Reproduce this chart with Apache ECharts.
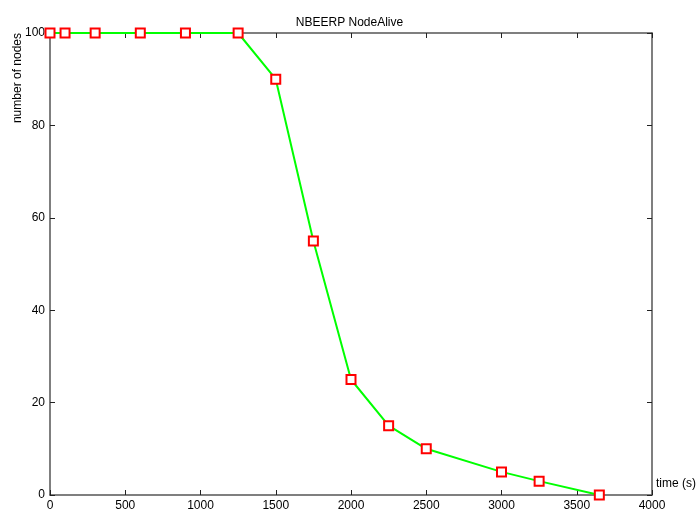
<!DOCTYPE html>
<html>
<head>
<meta charset="utf-8">
<script src="https://cdn.jsdelivr.net/npm/echarts@6/dist/echarts.min.js"></script>
<style>
html,body{margin:0;padding:0;background:#fff;}
#c{width:699px;height:512px;}
</style>
</head>
<body>
<div id="c"></div>
<script>
var timeValues = [0, 100, 300, 600, 900, 1250, 1500, 1750, 2000, 2250, 2500, 3000, 3250, 3650];
var nodesAlive = [100, 100, 100, 100, 100, 100, 90, 55, 25, 15, 10, 5, 3, 0];
var titleText = 'NBEERP NodeAlive';
var xName = 'time (s)';
var yName = 'number of nodes';

var data = timeValues.map(function (t, i) { return [t, nodesAlive[i]]; });
var font = 'Liberation Sans, Arial, sans-serif';
var axisColor = '#555555';

var chart = echarts.init(document.getElementById('c'), null, {renderer: 'canvas'});
var tick = {show: true, inside: true, length: 5, lineStyle: {color: '#222', width: 1}};
var lineS = {show: true, onZero: false, lineStyle: {color: axisColor, width: 1.5}};
var plain = function (v) { return String(v); };
chart.setOption({
  animation: false,
  backgroundColor: '#fff',
  title: {
    text: titleText, left: 'center', top: 12,
    textStyle: {fontFamily: font, fontSize: 12, fontWeight: 'normal', color: '#000'}
  },
  grid: {left: 50, right: 39, top: 33, bottom: 15, containLabel: false},
  graphic: [{
    type: 'text', x: 12, y: 33, rotation: Math.PI / 2,
    style: {text: yName, font: '12px ' + font, fill: '#000', textAlign: 'right', textVerticalAlign: 'top'}
  }],
  xAxis: [{
    type: 'value', min: 0, max: 4000, interval: 500, position: 'bottom',
    name: xName, nameLocation: 'end', nameGap: 4,
    nameTextStyle: {fontFamily: font, fontSize: 12, color: '#000', verticalAlign: 'bottom', padding: [0, 0, 5, 0]},
    axisLine: lineS,
    axisTick: tick,
    axisLabel: {fontFamily: font, fontSize: 12, color: '#000', margin: 5, formatter: plain},
    splitLine: {show: false}
  }, {
    type: 'value', min: 0, max: 4000, interval: 500, position: 'top',
    axisLine: lineS,
    axisTick: tick, axisLabel: {show: false}, splitLine: {show: false}
  }],
  yAxis: [{
    type: 'value', min: 0, max: 100, interval: 20, position: 'left',
    axisLine: lineS,
    axisTick: tick,
    axisLabel: {fontFamily: font, fontSize: 12, color: '#000', margin: 5, formatter: plain},
    splitLine: {show: false}
  }, {
    type: 'value', min: 0, max: 100, interval: 20, position: 'right',
    axisLine: lineS,
    axisTick: tick, axisLabel: {show: false}, splitLine: {show: false}
  }],
  series: [{
    type: 'line', data: data, xAxisIndex: 0, yAxisIndex: 0,
    symbol: 'rect', symbolSize: 9, showAllSymbol: true,
    lineStyle: {color: '#00ff00', width: 2},
    itemStyle: {color: '#ffffff', borderColor: '#ff0000', borderWidth: 2},
    clip: false, z: 3
  }]
});
</script>
</body>
</html>
